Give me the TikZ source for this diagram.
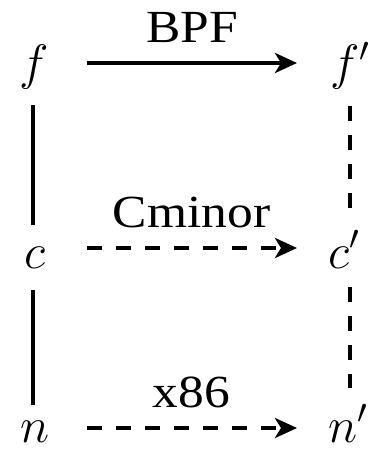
\documentclass[tikz,border=0pt]{standalone}
\usepackage[no-math]{fontspec}
\setmainfont{Liberation Serif}
\newfontfamily\labfont[FakeStretch=1.12]{Liberation Serif}
\usepackage{tikz}
\usetikzlibrary{arrows.meta, positioning}

\tikzset{
  obj/.style={inner sep=0pt, anchor=base, font=\fontsize{23.5}{28}\selectfont},
  objp/.style={obj, anchor=base west},
  lab/.style={font=\labfont\fontsize{23}{28}\selectfont, inner sep=0pt, anchor=base, xshift=5pt},
  conn/.style={line width=2pt},
  dsh/.style={line width=2pt, dash pattern=on 7.5pt off 7pt},
  tip/.style={-{Stealth[length=11pt, width=10pt, inset=3pt]}}
}

\begin{document}
\begin{tikzpicture}[x=0.5pt, y=-0.5pt]
  \useasboundingbox (0,0) rectangle (373,449);

  % objects
  \node[obj]  (f)  at (34,80)   {$f$};
  \node[objp] (fp) at (330,80)  {$f'$};
  \node[obj]  (c)  at (35,268)  {$c$};
  \node[objp] (cp) at (328,268) {$c'$};
  \node[obj]  (n)  at (35,442)  {$n$};
  \node[objp] (np) at (328,442) {$n'$};

  % horizontal arrows
  \draw[conn, tip, shorten <=26.5pt, shorten >=16.5pt]
    ([yshift=8.5pt]f.base) -- ([yshift=8.5pt]fp.base west)
    node[lab, midway, yshift=10pt] {BPF};
  \draw[dsh, tip, shorten <=26pt, shorten >=15.5pt]
    ([yshift=10pt]c.base) -- ([yshift=10pt]cp.base west)
    node[lab, midway, yshift=10.5pt] {Cminor};
  \draw[dsh, tip, shorten <=26pt, shorten >=15.5pt]
    ([yshift=7pt]n.base) -- ([yshift=7pt]np.base west)
    node[lab, midway, yshift=10.5pt] {x86};

  % vertical links
  \draw[conn, shorten <=12.5pt, shorten >=21.5pt] ([xshift=-0.5pt]f.base) -- ([xshift=-1pt]c.base);
  \draw[conn, shorten <=11pt, shorten >=18.5pt] ([xshift=-1pt]c.base) -- ([xshift=-1pt]n.base);
  \draw[dsh, shorten <=13pt, shorten >=29pt] ([xshift=10pt]fp.base west) -- ([xshift=11pt]cp.base west);
  \draw[dsh, shorten <=9.5pt, shorten >=27pt] ([xshift=11pt]cp.base west) -- ([xshift=11pt]np.base west);
\end{tikzpicture}
\end{document}
